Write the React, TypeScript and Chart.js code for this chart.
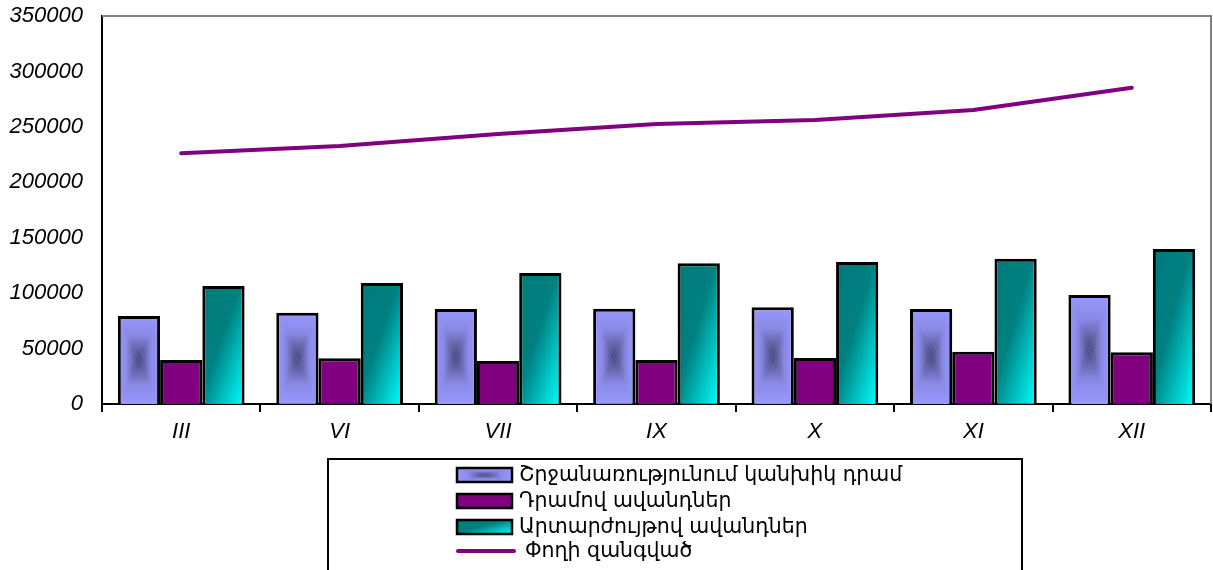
import React, { useEffect, useRef } from 'react';
import { Chart, registerables } from 'chart.js';

Chart.register(...registerables);

const categories = ['III', 'VI', 'VII', 'IX', 'X', 'XI', 'XII'];
const cashInCirculation = [79400, 82400, 85700, 86000, 87200, 85700, 98300];
const dramDeposits = [39700, 41200, 38800, 39700, 41500, 47200, 46600];
const fxDeposits = [106400, 109100, 118200, 126900, 128100, 131100, 139800];
const moneySupply = [226200, 232700, 243600, 252600, 256200, 265200, 285300];
const seriesNames = [
  'Շրջանառությունում կանխիկ դրամ',
  'Դրամով ավանդներ',
  'Արտարժույթով ավանդներ',
  'Փողի զանգված',
];
const yMin = 0;
const yMax = 350000;
const yStep = 50000;

const PERI = '#9999ff';
const PERI_DARK = '#47477a';
const PURPLE = '#800080';
const TEAL = '#008080';
const CYAN = '#00ffff';

type Kind = 'peri' | 'purple' | 'teal';
const kinds: Kind[] = ['peri', 'purple', 'teal'];
const fallback: Record<Kind, string> = { peri: PERI, purple: PURPLE, teal: TEAL };

const CAT_PCT = 0.8;

function paintFill(g: CanvasRenderingContext2D, kind: Kind, w: number, h: number) {
  if (kind === 'purple') {
    g.fillStyle = PURPLE;
    g.fillRect(0, 0, w, h);
    return;
  }
  if (kind === 'teal') {
    g.save();
    g.scale(w, h);
    const gr = g.createLinearGradient(0, 0, 1, 1);
    gr.addColorStop(0, '#007a7a');
    gr.addColorStop(0.45, TEAL);
    gr.addColorStop(0.75, '#00c8c8');
    gr.addColorStop(1, CYAN);
    g.fillStyle = gr;
    g.fillRect(0, 0, 1, 1);
    g.restore();
    return;
  }
  g.fillStyle = PERI;
  g.fillRect(0, 0, w, h);
  const cx = w / 2;
  const cy = h / 2;
  const lg = (x0: number, y0: number, x1: number, y1: number) => {
    const gr = g.createLinearGradient(x0, y0, x1, y1);
    gr.addColorStop(0, PERI);
    gr.addColorStop(0.45, '#8888e4');
    gr.addColorStop(1, PERI_DARK);
    return gr;
  };
  const tri = (pts: number[][], fill: CanvasGradient) => {
    g.beginPath();
    g.moveTo(pts[0][0], pts[0][1]);
    g.lineTo(pts[1][0], pts[1][1]);
    g.lineTo(pts[2][0], pts[2][1]);
    g.closePath();
    g.fillStyle = fill;
    g.fill();
  };
  tri([[0, 0], [w, 0], [cx, cy]], lg(0, 0, 0, cy));
  tri([[0, h], [w, h], [cx, cy]], lg(0, h, 0, cy));
  tri([[0, 0], [0, h], [cx, cy]], lg(0, 0, cx, 0));
  tri([[w, 0], [w, h], [cx, cy]], lg(w, 0, cx, 0));
}

function makePattern(target: CanvasRenderingContext2D, kind: Kind, left: number, top: number, w: number, h: number) {
  const c = document.createElement('canvas');
  c.width = Math.max(1, Math.ceil(w) + 1);
  c.height = Math.max(1, Math.ceil(h) + 1);
  const g = c.getContext('2d') as CanvasRenderingContext2D;
  paintFill(g, kind, w, h);
  const p = target.createPattern(c, 'no-repeat') as CanvasPattern;
  p.setTransform(new DOMMatrix([1, 0, 0, 1, left, top]));
  return p;
}

function barFill(kind: Kind) {
  return (ctx: any) => {
    if (ctx.type !== 'data') return fallback[kind];
    const chart = ctx.chart;
    const xs = chart.scales.x;
    const ys = chart.scales.y;
    if (!xs || !ys || !xs.width || !ys.height) return fallback[kind];
    const catW = xs.width / categories.length;
    const barW = (catW * CAT_PCT) / 3;
    const left = xs.getPixelForValue(ctx.dataIndex) - (catW * CAT_PCT) / 2 + barW * ctx.datasetIndex;
    const top = ys.getPixelForValue(ctx.raw as number);
    const base = ys.getPixelForValue(0);
    return makePattern(chart.ctx, kind, left, top, barW, base - top);
  };
}

const framePlugin = {
  id: 'frame',
  beforeDatasetsDraw(chart: any) {
    const { ctx, chartArea } = chart;
    const { left, top, right, bottom } = chartArea;
    ctx.save();
    ctx.strokeStyle = '#808080';
    ctx.lineWidth = 2;
    ctx.beginPath();
    ctx.moveTo(left, top);
    ctx.lineTo(right, top);
    ctx.lineTo(right, bottom);
    ctx.stroke();
    ctx.restore();
  },
};

const LEGEND_FONT = "20.5px 'DejaVu Sans'";

const legendPlugin = {
  id: 'boxLegend',
  afterDraw(chart: any) {
    const ctx: CanvasRenderingContext2D = chart.ctx;
    ctx.save();
    ctx.strokeStyle = '#000000';
    ctx.lineWidth = 2;
    ctx.strokeRect(328, 459, 694, 200);
    const rows = [475, 501, 527, 551];
    const sx = 457;
    const sw = 55;
    const sh = 14;
    ctx.font = LEGEND_FONT;
    ctx.textBaseline = 'middle';
    ctx.fillStyle = '#000000';
    seriesNames.forEach((name, i) => {
      const y = rows[i];
      if (i < 3) {
        const kind = kinds[i];
        ctx.fillStyle = makePattern(ctx, kind, sx, y - sh / 2, sw, sh);
        ctx.fillRect(sx, y - sh / 2, sw, sh);
        ctx.strokeStyle = '#000000';
        ctx.lineWidth = 2.5;
        ctx.strokeRect(sx, y - sh / 2, sw, sh);
      } else {
        ctx.strokeStyle = PURPLE;
        ctx.lineWidth = 4;
        ctx.lineCap = 'round';
        ctx.beginPath();
        ctx.moveTo(sx + 1, y);
        ctx.lineTo(sx + sw + 2, y);
        ctx.stroke();
      }
      ctx.fillStyle = '#000000';
      ctx.fillText(name, i < 3 ? 519 : 525, y + 1);
    });
    ctx.restore();
  },
};

export default function App() {
  const ref = useRef<HTMLCanvasElement>(null);
  useEffect(() => {
    const canvas = ref.current as HTMLCanvasElement;
    const chart = new Chart(canvas, {
      type: 'bar',
      data: {
        labels: categories,
        datasets: [
          {
            type: 'bar',
            label: seriesNames[0],
            data: cashInCirculation,
            backgroundColor: barFill('peri') as any,
            borderColor: '#000000',
            borderWidth: 3,
            categoryPercentage: CAT_PCT,
            barPercentage: 1,
          },
          {
            type: 'bar',
            label: seriesNames[1],
            data: dramDeposits,
            backgroundColor: barFill('purple') as any,
            borderColor: '#000000',
            borderWidth: 3,
            categoryPercentage: CAT_PCT,
            barPercentage: 1,
          },
          {
            type: 'bar',
            label: seriesNames[2],
            data: fxDeposits,
            backgroundColor: barFill('teal') as any,
            borderColor: '#000000',
            borderWidth: 3,
            categoryPercentage: CAT_PCT,
            barPercentage: 1,
          },
          {
            type: 'line',
            label: seriesNames[3],
            data: moneySupply,
            borderColor: PURPLE,
            backgroundColor: PURPLE,
            borderWidth: 4,
            borderCapStyle: 'round',
            borderJoinStyle: 'round',
            pointRadius: 0,
            tension: 0,
            fill: false,
          } as any,
        ],
      },
      options: {
        animation: false,
        responsive: true,
        maintainAspectRatio: false,
        events: [],
        layout: { padding: { left: 0, top: 16, right: 2, bottom: 116 } },
        plugins: {
          legend: { display: false },
          tooltip: { enabled: false },
        },
        scales: {
          x: {
            offset: true,
            grid: {
              display: true,
              offset: true,
              drawOnChartArea: false,
              drawTicks: true,
              tickLength: 8,
              color: '#000000',
              lineWidth: 2,
            },
            border: { display: true, color: '#000000', width: 2 },
            ticks: {
              color: '#000000',
              padding: 7,
              maxRotation: 0,
              font: { family: "'Liberation Sans', sans-serif", size: 22, style: 'italic' },
            },
            afterFit: (s: any) => {
              s.height = 50;
              s.paddingLeft = 0;
              s.paddingRight = 0;
            },
          },
          y: {
            min: yMin,
            max: yMax,
            grid: { display: false, drawTicks: false },
            border: { display: true, color: '#000000', width: 2 },
            ticks: {
              stepSize: yStep,
              color: '#000000',
              padding: 19,
              font: { family: "'Liberation Sans', sans-serif", size: 22, style: 'italic' },
              callback: (v: any) => String(v),
            },
            afterFit: (s: any) => {
              s.width = 102;
              s.paddingTop = 0;
              s.paddingBottom = 0;
            },
          },
        },
      },
      plugins: [framePlugin, legendPlugin],
    });
    return () => chart.destroy();
  }, []);
  return (
    <div style={{ position: 'fixed', left: 0, top: 0, width: 1213, height: 570 }}>
      <canvas ref={ref} />
    </div>
  );
}
